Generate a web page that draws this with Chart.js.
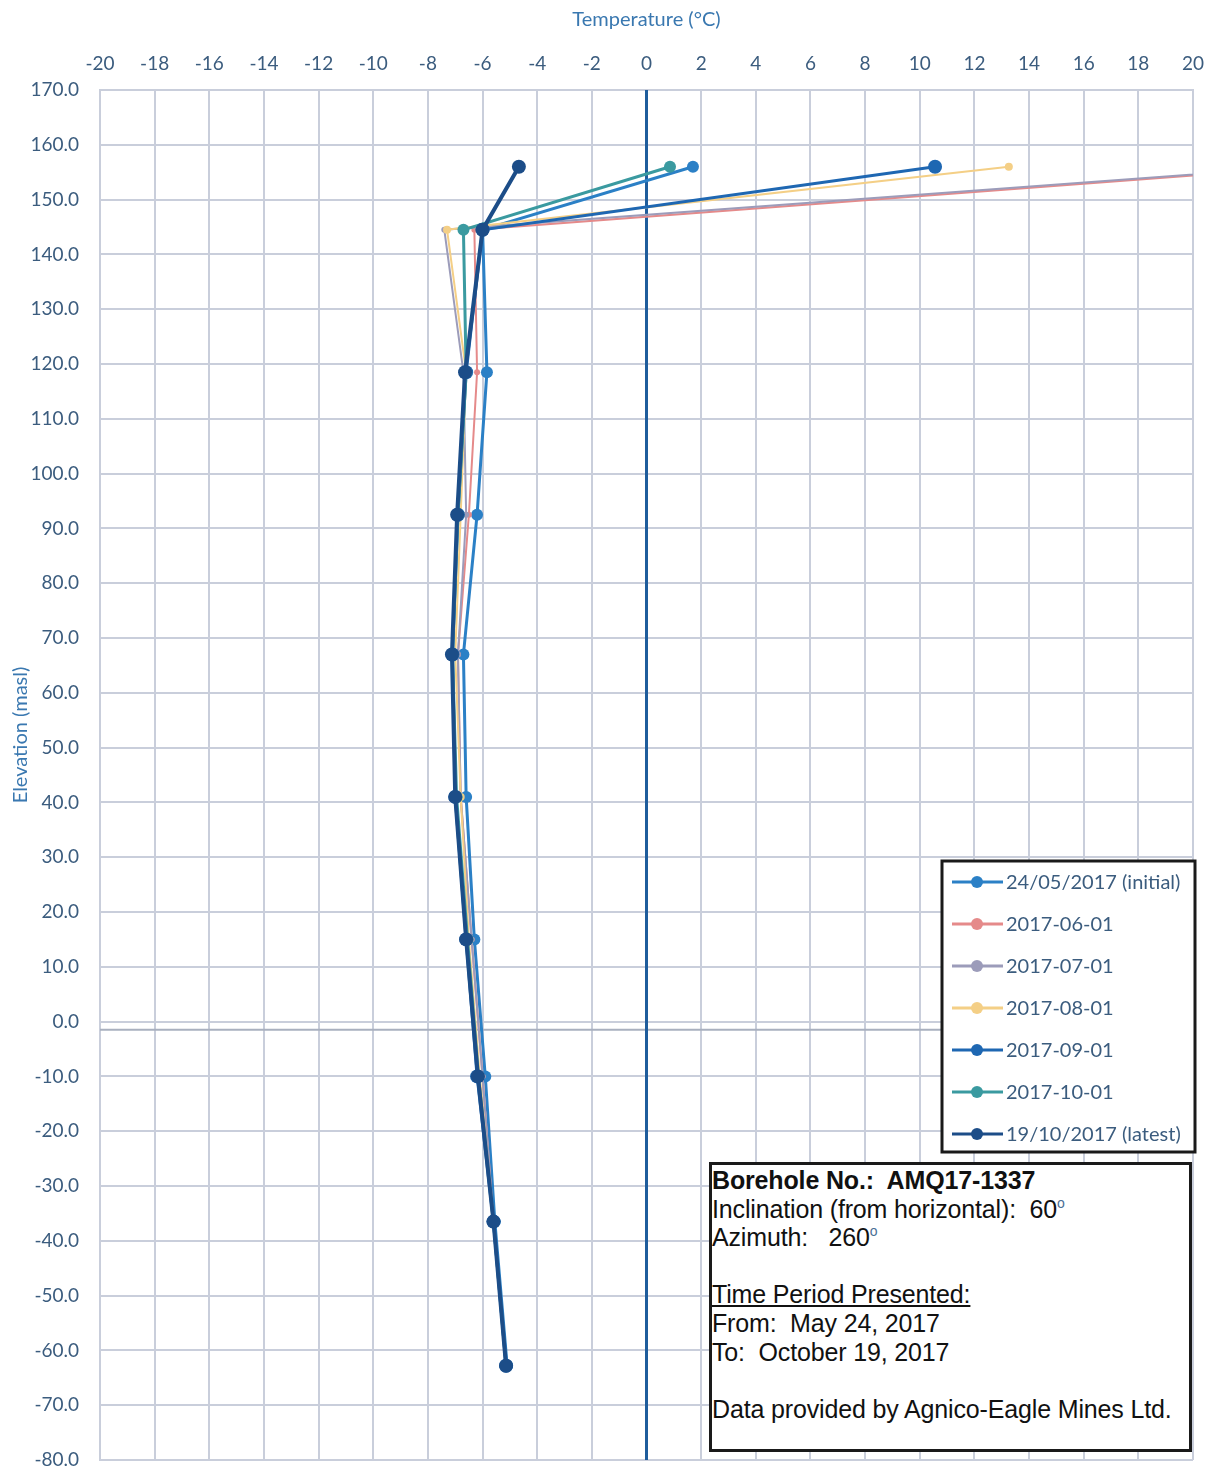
<!DOCTYPE html>
<html>
<head>
<meta charset="utf-8">
<script src="https://cdn.jsdelivr.net/npm/chart.js@4.4.1/dist/chart.umd.min.js"></script>
<style>
  body{margin:0;background:#fff;}
  #wrap{position:relative;width:1211px;height:1472px;}
  #info{position:absolute;left:709px;top:1162px;width:483px;height:290px;border:3px solid #1a1a1a;background:#fff;
    font-family:"Liberation Sans",Arial,sans-serif;font-size:25px;line-height:28.6px;color:#111;padding:1px 0 0 0;box-sizing:border-box;letter-spacing:-0.15px;}
  #info div{height:28.6px;white-space:nowrap;}
  #info sup{font-size:14px;line-height:0;vertical-align:10px;color:#4a6f95;}
  #info .u{text-decoration:underline;}
</style>
</head>
<body>
<div id="wrap">
  <canvas id="profile" width="1211" height="1472"></canvas>
  <div id="info">
    <div><b>Borehole No.:&nbsp; AMQ17-1337</b></div>
    <div>Inclination (from horizontal):&nbsp; 60<sup>o</sup></div>
    <div>Azimuth:&nbsp;&nbsp; 260<sup>o</sup></div>
    <div>&nbsp;</div>
    <div class="u">Time Period Presented:</div>
    <div>From:&nbsp; May 24, 2017</div>
    <div>To:&nbsp; October 19, 2017</div>
    <div>&nbsp;</div>
    <div>Data provided by Agnico-Eagle Mines Ltd.</div>
  </div>
</div>
<script>
// elevations of the thermistor beads (masl)
const elevations = [156, 144.5, 118.5, 92.5, 67, 41, 15, -10, -36.5, -62.8];

const readingDates = ['24/05/2017 (initial)','2017-06-01','2017-07-01','2017-08-01','2017-09-01','2017-10-01','19/10/2017 (latest)'];

// temperatures (°C), one array per reading, top bead first
const tInitial = [1.7, -6.0, -5.84, -6.2, -6.7, -6.6, -6.3, -5.9, -5.55, -5.1];
const tJun = [24.2, -6.3, -6.2, -6.5, -6.9, -6.8, -6.4, -6.0, -5.6, -5.15];
const tJul = [23.8, -7.4, -6.7, -6.6, -6.9, -6.8, -6.4, -6.0, -5.6, -5.15];
const tAug = [13.26, -7.3, -6.6, -6.8, -7.0, -6.8, -6.5, -6.1, -5.6, -5.15];
const tSep = [10.56, -6.0, -6.6, -6.9, -7.1, -7.0, -6.6, -6.2, -5.6, -5.14];
const tOct = [0.86, -6.7, -6.6, -6.9, -7.1, -6.95, -6.55, -6.15, -5.6, -5.14];
const tLatest = [-4.67, -6.0, -6.64, -6.93, -7.12, -7.0, -6.6, -6.17, -5.6, -5.14];

// reference lines: 0 °C and ground line
const zeroLineX = [0, 0];
const zeroLineY = [170, -80];
const groundX = [-20, 20];
const groundY = [-1.5, -1.5];

const xTicks = {min:-20, max:20, step:2};
const yTicks = {min:-80, max:170, step:10};

const seriesTemps = [tInitial, tJun, tJul, tAug, tSep, tOct, tLatest];
const seriesColors = ['#2b80c6','#e58a8a','#9c9cba','#f4cf86','#1e67b2','#3a9aa0','#1c4d88'];
const seriesWidths = [3, 2, 2, 2, 3, 3, 4];
const seriesRadius = [6, 3, 3, 4, 7, 6, 7];

const pts = (xs, ys) => xs.map((x,i)=>({x:x, y:ys[i]}));

const datasets = seriesTemps.map((temps,i)=>({
    label: readingDates[i],
    data: pts(temps, elevations),
    showLine: true,
    borderColor: seriesColors[i],
    backgroundColor: seriesColors[i],
    borderWidth: seriesWidths[i],
    pointRadius: seriesRadius[i],
    pointBorderWidth: 0,
    order: seriesTemps.length - i
}));
datasets.push({label:'zero', data:pts(zeroLineX, zeroLineY), showLine:true, borderColor:'#1f5d9c', borderWidth:3, pointRadius:0, order:20});
datasets.push({label:'ground', data:pts(groundX, groundY), showLine:true, borderColor:'#a9b0bf', borderWidth:2, pointRadius:0, order:21});

const tickColor = '#3b5c7e';
const gridColor = '#c9cedb';
const titleColor = '#3a78b0';

// white page background
const bgPlugin = {
    id:'bg',
    beforeDraw(chart){
        const c = chart.ctx;
        c.save(); c.fillStyle='#fff'; c.fillRect(0,0,chart.width,chart.height); c.restore();
    }
};

// y axis title, sits a bit above the middle like the original
const yTitle = {
    id:'yTitle',
    afterDraw(chart){
        const c = chart.ctx;
        c.save();
        c.translate(21, 735);
        c.rotate(-Math.PI/2);
        c.font='20px Lato, sans-serif';
        c.fillStyle=titleColor;
        c.textAlign='center'; c.textBaseline='middle';
        c.fillText('Elevation (masl)', 0, 0);
        c.restore();
    }
};

// legend box inside the plot, lower right
const boxLegend = {
    id:'boxLegend',
    afterDraw(chart){
        const c = chart.ctx;
        const x0=942, y0=861, w=253, h=291;
        c.save();
        c.fillStyle='#fff';
        c.fillRect(x0,y0,w,h);
        c.lineWidth=3; c.strokeStyle='#1a1a1a';
        c.strokeRect(x0,y0,w,h);
        c.font='20px Lato, "Open Sans", sans-serif';
        c.textBaseline='middle';
        readingDates.forEach((lab,i)=>{
            const y = 882 + i*42;
            c.strokeStyle=seriesColors[i]; c.lineWidth=3;
            c.beginPath(); c.moveTo(952,y); c.lineTo(1003,y); c.stroke();
            c.fillStyle=seriesColors[i];
            c.beginPath(); c.arc(977,y,6,0,Math.PI*2); c.fill();
            c.fillStyle=tickColor;
            c.fillText(lab, 1006, y+1);
        });
        c.restore();
    }
};

new Chart(document.getElementById('profile'), {
    type:'scatter',
    data:{datasets},
    options:{
        responsive:false,
        animation:false,
        layout:{padding:{right:18, bottom:12, top:0, left:0}},
        plugins:{legend:{display:false}, tooltip:{enabled:false}},
        scales:{
            x:{
                type:'linear', position:'top',
                min:xTicks.min, max:xTicks.max,
                afterFit(s){ s.height = 90; s.paddingLeft = 0; s.paddingRight = 0; },
                ticks:{stepSize:xTicks.step, color:tickColor, font:{family:'Lato', size:19}, padding:15},
                grid:{color:gridColor, lineWidth:2, drawTicks:false},
                border:{color:gridColor, width:2},
                title:{display:true, text:'Temperature (°C)', color:titleColor, font:{family:'Lato', size:20}, padding:{top:8, bottom:0}}
            },
            y:{
                type:'linear',
                min:yTicks.min, max:yTicks.max,
                afterFit(s){ s.width = 100; s.paddingTop = 0; s.paddingBottom = 0; },
                ticks:{stepSize:yTicks.step, color:tickColor, font:{family:'Lato', size:19}, padding:21,
                    callback:v=>v.toFixed(1)},
                grid:{color:gridColor, lineWidth:2, drawTicks:false},
                border:{color:gridColor, width:2},
                title:{display:false}
            }
        }
    },
    plugins:[bgPlugin, yTitle, boxLegend]
});
</script>
</body>
</html>
